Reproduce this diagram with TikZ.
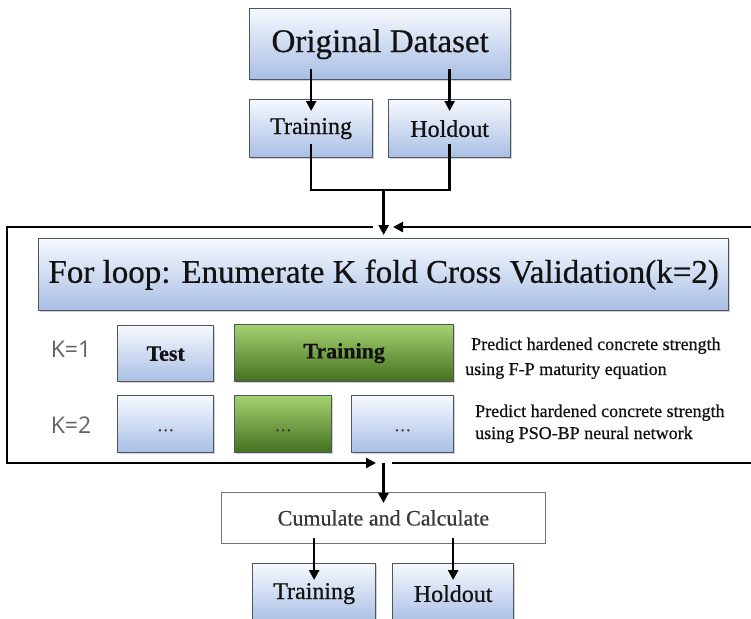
\documentclass[tikz,border=0pt]{standalone}
\usepackage{fontspec}
\setmainfont{Liberation Serif}[FakeBold=0.6]
\newfontfamily\labelfont{Open Sans}
\usetikzlibrary{arrows.meta,shadows,calc}

\definecolor{bluetop}{RGB}{246,249,254}
\definecolor{bluebot}{RGB}{168,190,228}
\definecolor{greentop}{RGB}{164,210,112}
\definecolor{greenbot}{RGB}{68,112,32}
\definecolor{edge}{RGB}{78,84,98}
\definecolor{ink}{RGB}{18,18,18}

\newcommand{\fsz}[1]{\fontsize{#1}{#1}\selectfont}

\begin{document}
\begin{tikzpicture}[x=1pt,y=-1pt,
  bluebox/.style={draw=edge, line width=1.3pt, top color=bluetop, bottom color=bluebot,
    anchor=north west, inner sep=0pt, text=ink,
    drop shadow={shadow xshift=1.6pt, shadow yshift=-1.6pt, opacity=0.35}},
  greenbox/.style={bluebox, top color=greentop, bottom color=greenbot},
  plainbox/.style={draw=black!55, line width=0.9pt, fill=white, anchor=north west,
    inner sep=0pt, text=black!78},
  dots/.style={font=\fsz{17}, text=black!80, text depth=0pt, yshift=-6pt},
  wire/.style={line width=2.6pt, draw=black},
  arr/.style={line width=2.4pt, draw=black, -{Triangle[length=10pt,width=10pt]}},
  klabel/.style={text=black!62, font=\labelfont\fsz{23}},
  note/.style={text=ink, font=\fsz{18}, anchor=base west, inner sep=0pt}
]
\clip (0,0) rectangle (751,618);
\fill[white] (0,0) rectangle (751,618);

% top: dataset split
\node[bluebox, minimum width=261pt, minimum height=71pt, font=\fsz{33}] (od) at (249,8) {Original Dataset};
\node[bluebox, minimum width=123pt, minimum height=58pt, font=\fsz{24}] (trA) at (249,99) {Training};
\node[bluebox, minimum width=122pt, minimum height=58pt, font=\fsz{24}] (hoA) at (388,99) {Holdout};

% cross validation block
\node[bluebox, minimum width=690pt, minimum height=72pt, font=\fsz{33}] (loop) at (38,238)
  {For loop: Enumerate K fold Cross Validation(k=2)};

\node[klabel] (k1) at (71,349) {K=1};
\node[klabel] (k2) at (71,425) {K=2};

\node[bluebox, minimum width=96pt, minimum height=56pt, font=\bfseries\fsz{22}] (test) at (117,325) {Test};
\node[greenbox, minimum width=219pt, minimum height=57pt, font=\bfseries\fsz{22}] (trG) at (234,324) {Training};

\node[bluebox, minimum width=96pt, minimum height=57pt] (d1) at (117,395) {};
\node[greenbox, minimum width=97pt, minimum height=57pt] (d2) at (234,395) {};
\node[bluebox, minimum width=102pt, minimum height=57pt] (d3) at (351,395) {};
\node[dots] at (d1.center) {…};
\node[dots] at (d2.center) {…};
\node[dots] at (d3.center) {…};

\node[note] (n1) at (471,350) {Predict hardened concrete strength};
\node[note] (n2) at (465,375) {using F-P maturity equation};
\node[note] (n3) at (475,417) {Predict hardened concrete strength};
\node[note] (n4) at (475,439) {using PSO-BP neural network};

% bottom: result split
\node[plainbox, minimum width=324pt, minimum height=51pt, font=\fsz{22}] (cum) at (221,492) {Cumulate and Calculate};
\node[bluebox, minimum width=123pt, minimum height=60pt, font=\fsz{24}] (trB) at (252,563) {Training};
\node[bluebox, minimum width=121pt, minimum height=60pt, font=\fsz{24}] (hoB) at (392,563) {Holdout};

% connectors
\draw[arr] ($(od.south -| trA.north)+(0,-11)$) -- ($(trA.north)+(0,12)$);
\draw[arr] ($(od.south -| hoA.north)+(0,-11)$) -- ($(hoA.north)+(0,12)$);

\coordinate (join) at ($(loop.north)+(0,-48)$);
\draw[wire, line join=miter] ($(trA.south)+(0,-14)$) |- (join) -| ($(hoA.south)+(0,-14)$);
\draw[arr] (join) -- ($(loop.north)+(0,-3)$);

\coordinate (inL) at (373,227);
\coordinate (inR) at (393,227);
\coordinate (tl) at (7,227);
\coordinate (bl) at (7,463);
\coordinate (outL) at (376,463);
\coordinate (outR) at (392,463);
\coordinate (edgeT) at (755,227);
\coordinate (edgeB) at (755,463);
\coordinate (outC) at (cum.north |- bl);

\draw[arr, line join=miter] (inL) -- (tl) -- (bl) -- (outL);
\draw[arr] (edgeT) -- (inR);
\draw[wire] (outR) -- (edgeB);
\draw[arr] (outC) -- ($(cum.north)+(0,11)$);

\draw[arr] ($(cum.south -| trB.north)+(0,-6)$) -- ($(trB.north)+(0,17)$);
\draw[arr] ($(cum.south -| hoB.north)+(0,-6)$) -- ($(hoB.north)+(0,17)$);
\end{tikzpicture}
\end{document}
